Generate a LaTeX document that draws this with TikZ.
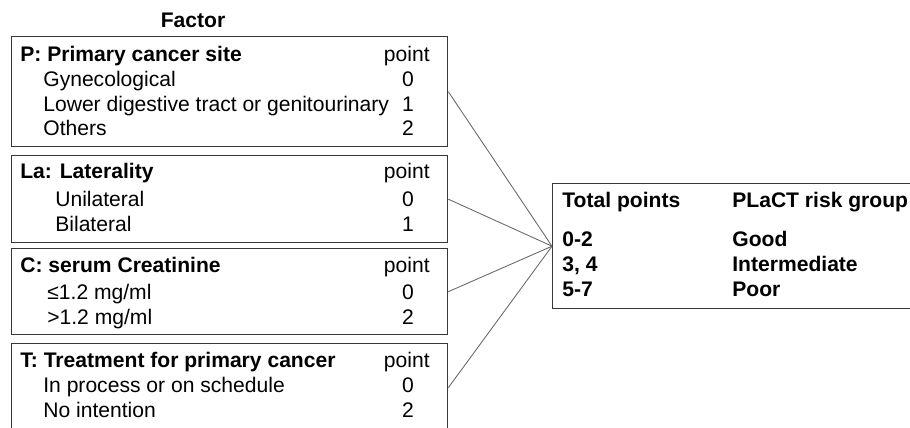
\documentclass[tikz,border=0pt]{standalone}
\usepackage{fontspec}
\setmainfont{Liberation Sans}
\usepackage{xcolor}
\definecolor{boxgray}{RGB}{55,55,55}
\definecolor{linegray}{RGB}{105,105,105}
\usepackage{tikz}
\usetikzlibrary{positioning}

\begin{document}
\begin{tikzpicture}[x=0.02cm,y=-0.02cm,
  every node/.style={font=\fontsize{12}{14}\selectfont},
  factorbox/.style={draw=boxgray,line width=0.8pt,minimum width=8.72cm,anchor=north west,inner sep=0pt},
  head/.style={anchor=base west,inner sep=0pt,font=\fontsize{12}{14}\selectfont\bfseries},
  item/.style={anchor=base west,inner sep=0pt},
  pt/.style={anchor=base,inner sep=0pt},
  link/.style={draw=linegray,line width=0.5pt}]
  \useasboundingbox (0,0) rectangle (910,428);
  \clip (0,0) rectangle (910,428);
  % title
  \node[font=\fontsize{12}{14}\selectfont\bfseries,inner sep=0pt] (factor) at (193,20) {Factor};
  % P
  \node[factorbox,minimum height=2.2cm] (p) at (11,36) {};
  \node[head] (phead) at (20,62) {P: Primary cancer site};
  \node[item] (pone) at (43,87) {Gynecological};
  \node[item] (ptwo) at (43,112) {Lower digestive tract or genitourinary};
  \node[item] (pthree) at (43,136) {Others};
  \node[anchor=base east,inner sep=0pt] (ppt) at (430,62) {point};
  \node[pt] (pa) at (408,87) {0};
  \node[pt] (pb) at (408,112) {1};
  \node[pt] (pc) at (408,136) {2};
  % La
  \node[factorbox,minimum height=1.74cm] (la) at (11,155) {};
  \node[head] (lahead) at (20,179) {La: Laterality};
  \node[item] (laone) at (55,207) {Unilateral};
  \node[item] (latwo) at (55,232) {Bilateral};
  \node[anchor=base east,inner sep=0pt] (lapt) at (430,179) {point};
  \node[pt] (laa) at (408,207) {0};
  \node[pt] (lab) at (408,232) {1};
  % C
  \node[factorbox,minimum height=1.72cm] (c) at (11,248) {};
  \node[head] (chead) at (20,273) {C: serum Creatinine};
  \node[item] (cone) at (47,300) {≤1.2 mg/ml};
  \node[item] (ctwo) at (47,325) {>1.2 mg/ml};
  \node[anchor=base east,inner sep=0pt] (cpt) at (430,273) {point};
  \node[pt] (ca) at (408,300) {0};
  \node[pt] (cb) at (408,325) {2};
  % T
  \node[factorbox,minimum height=1.76cm] (t) at (11,343) {};
  \node[head] (thead) at (20,368) {T: Treatment for primary cancer};
  \node[item] (tone) at (43,393) {In process or on schedule};
  \node[item] (ttwo) at (43,418) {No intention};
  \node[anchor=base east,inner sep=0pt] (tpt) at (430,368) {point};
  \node[pt] (ta) at (408,393) {0};
  \node[pt] (tb) at (408,418) {2};
  % risk group
  \node[draw=boxgray,line width=0.8pt,minimum width=8cm,minimum height=2.5cm,anchor=north west,inner sep=0pt] (risk) at (552,183) {};
  \node[head] (tot) at (562,208) {Total points};
  \node[head] (grp) at (732,208) {PLaCT risk group};
  \node[head] (ra) at (562,247) {0-2};
  \node[head] (rb) at (562,272) {3, 4};
  \node[head] (rc) at (562,297) {5-7};
  \node[head] (ga) at (732,247) {Good};
  \node[head] (gb) at (732,272) {Intermediate};
  \node[head] (gc) at (732,297) {Poor};
  % lines
  \foreach \b in {p,la,c,t}
    \draw[link] (\b.east) -- (risk.west);
\end{tikzpicture}
\end{document}
